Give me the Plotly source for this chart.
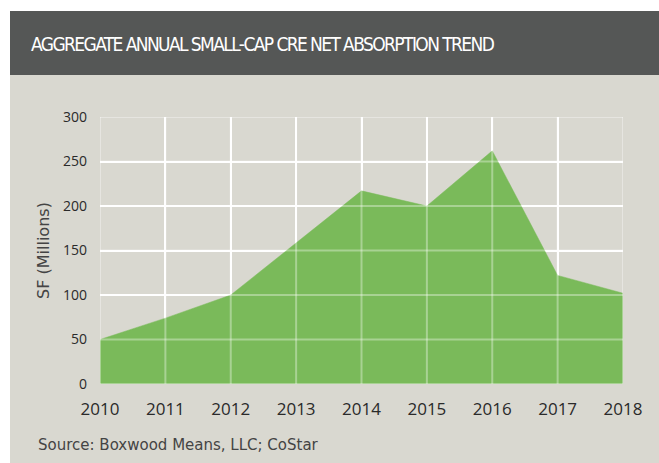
import plotly.graph_objects as go

years = [2010, 2011, 2012, 2013, 2014, 2015, 2016, 2017, 2018]
absorption = [50, 74, 100, 158, 217, 200, 262, 122, 102]
y_ticks = [0, 50, 100, 150, 200, 250, 300]

title_text = "AGGREGATE ANNUAL SMALL-CAP CRE NET ABSORPTION TREND"
source_text = "Source: Boxwood Means, LLC; CoStar"

W, H = 659, 463
ML, MR, MT, MB = 100, 36, 117, 79
PW, PH = W - ML - MR, H - MT - MB

def px_x(p):
    return (p - ML) / PW

def px_y(p):
    return 1 - (p - MT) / PH

fig = go.Figure()
fig.add_trace(go.Scatter(
    x=years, y=absorption, mode="lines", fill="tozeroy",
    fillcolor="#7aba5a", line=dict(color="#7aba5a", width=0.5),
    hoverinfo="x+y", showlegend=False,
))

shapes = [
    dict(type="rect", xref="paper", yref="paper", x0=px_x(10), x1=px_x(W + 5),
         y0=px_y(H + 5), y1=px_y(75), fillcolor="#d9d8d0", line=dict(width=0), layer="below"),
    dict(type="rect", xref="paper", yref="paper", x0=px_x(10), x1=px_x(W + 5),
         y0=px_y(75), y1=px_y(11), fillcolor="#555756", line=dict(width=0), layer="below"),
]
grid_over = "rgba(255,255,255,0.35)"
for yr in years:
    shapes.append(dict(type="line", xref="x", yref="y", x0=yr, x1=yr, y0=y_ticks[0], y1=y_ticks[-1],
                       line=dict(color=grid_over, width=2), layer="above"))
for t in y_ticks:
    shapes.append(dict(type="line", xref="x", yref="y", x0=years[0], x1=years[-1], y0=t, y1=t,
                       line=dict(color=grid_over, width=2), layer="above"))

title_html = ('<span style="font-stretch:condensed;letter-spacing:-1.6px;'
              'font-family:\'DejaVu Sans Condensed\',\'DejaVu Sans\'">'
              + title_text + '</span>')

annotations = [
    dict(text=title_html, xref="paper", yref="paper", x=px_x(29), y=px_y(44),
         xanchor="left", yanchor="middle", showarrow=False,
         font=dict(family="DejaVu Sans Condensed, DejaVu Sans", size=19, color="white")),
    dict(text=source_text, xref="paper", yref="paper", x=px_x(36), y=px_y(445),
         xanchor="left", yanchor="middle", showarrow=False,
         font=dict(family="DejaVu Sans, sans-serif", size=15, color="#444444")),
]

fig.update_layout(
    width=W, height=H,
    margin=dict(l=ML, r=MR, t=MT, b=MB, pad=0),
    paper_bgcolor="white",
    plot_bgcolor="rgba(0,0,0,0)",
    shapes=shapes,
    annotations=annotations,
    font=dict(family="Open Sans, sans-serif", size=14, color="#333333"),
    xaxis=dict(range=[years[0], years[-1]], tickmode="array", tickvals=years,
               ticktext=[str(y) for y in years], showgrid=True, gridcolor="white", gridwidth=2,
               zeroline=False, showline=False, ticks="", ticklabelstandoff=13,
               tickfont=dict(size=17, color="#2a2a2a")),
    yaxis=dict(range=[y_ticks[0], y_ticks[-1]], tickmode="array", tickvals=y_ticks,
               showgrid=True, gridcolor="white", gridwidth=2, zeroline=False, showline=False,
               ticks="", ticklabelstandoff=12,
               title=dict(text="SF (Millions)", standoff=9,
                          font=dict(family="DejaVu Sans, sans-serif", size=16, color="#444444")),
               tickfont=dict(size=14, color="#2a2a2a")),
)

fig.write_html("out.html")
